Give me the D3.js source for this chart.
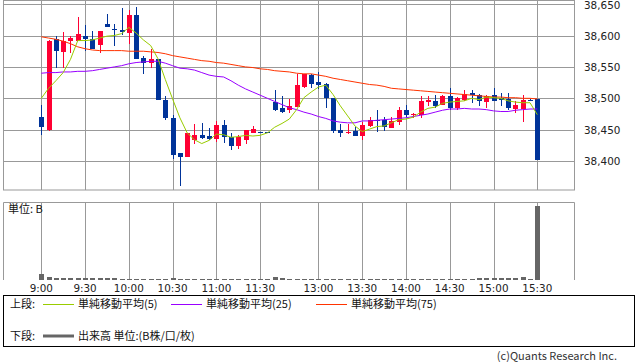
<!DOCTYPE html>
<html>
<head>
<meta charset="utf-8">
<script src="https://cdn.jsdelivr.net/npm/d3@7/dist/d3.min.js"></script>
<style>
  body { margin: 0; background: #fff; }
  svg { display: block; }
  .num { font-family: "DejaVu Sans", sans-serif; font-size: 10.4px; fill: #222; }
  .jp { font-family: "Noto Sans CJK JP", sans-serif; font-size: 11px; fill: #111; }
</style>
</head>
<body>
<div id="chart"></div>
<script>
// 5-minute bars, 9:00 - 15:30 (index 0..68)
var opens  = [38471,38449,38595,38573,38591,38592,38600,38595,38585,38619,38611,38609,38604,38632,38565,38556,38562,38498,38469,38413,
              38406,38433,38441,38440,38436,38457,38439,38424,38434,38445,38447,38446,38494,38485,38482,38486,38518,38537,38526,38523,
              38500,38450,38444,38448,38440,38456,38466,38466,38453,38462,38481,38473,38473,38494,38495,38490,38504,38484,38498,38509,
              38506,38494,38505,38500,38499,38483,38483,38498,38499];
var highs  = [38490,38593,38600,38605,38600,38629,38616,38608,38608,38634,38619,38644,38640,38646,38568,38578,38563,38503,38473,38413,
              38445,38459,38460,38453,38464,38465,38444,38441,38449,38456,38447,38446,38514,38503,38499,38538,38538,38538,38542,38524,
              38501,38459,38459,38454,38462,38470,38481,38470,38470,38486,38490,38477,38503,38503,38505,38505,38517,38502,38514,38514,
              38507,38506,38517,38508,38508,38495,38505,38499,38499];
var lows   = [38441,38448,38549,38549,38572,38592,38576,38578,38572,38613,38584,38601,38587,38563,38539,38549,38497,38466,38404,38361,
              38406,38427,38435,38434,38430,38429,38417,38420,38427,38445,38444,38444,38480,38477,38477,38486,38516,38517,38515,38485,
              38445,38438,38443,38440,38433,38455,38446,38448,38453,38457,38470,38469,38468,38487,38484,38490,38482,38482,38496,38493,
              38488,38484,38496,38488,38482,38477,38462,38496,38402];
var closes = [38455,38592,38576,38592,38596,38603,38594,38578,38608,38613,38609,38605,38632,38563,38557,38563,38498,38468,38410,38407,
              38444,38441,38437,38436,38457,38438,38424,38438,38449,38451,38444,38444,38481,38479,38487,38521,38538,38523,38522,38500,
              38448,38445,38447,38440,38457,38465,38464,38455,38464,38481,38473,38475,38495,38498,38487,38503,38485,38500,38507,38505,
              38495,38504,38496,38498,38485,38489,38498,38497,38402];

var ma5  = [38500,38516,38528,38541,38562,38592,38592,38593,38596,38599,38600,38603,38613,38604,38593,38584,38563,38530,38499,38469,
            38445,38434,38428,38433,38443,38442,38438,38439,38441,38440,38441,38445,38454,38460,38467,38482,38501,38510,38518,38521,
            38506,38488,38472,38456,38447,38451,38455,38456,38461,38466,38467,38470,38478,38484,38486,38492,38494,38495,38496,38500,
            38498,38502,38501,38500,38496,38494,38493,38493,38474];
var ma25 = [38540,38541,38541,38542,38542,38543,38543,38544,38546,38548,38550,38552,38555,38557,38558,38559,38559,38556,38552,38548,
            38547,38545,38541,38537,38535,38534,38528,38521,38515,38510,38505,38500,38495,38490,38485,38482,38478,38475,38471,38468,
            38464,38462,38461,38461,38464,38464,38465,38466,38467,38468,38469,38471,38473,38475,38478,38481,38483,38483,38484,38483,
            38483,38482,38480,38479,38479,38481,38482,38483,38483];
var ma75 = [38598,38596,38594,38591,38587,38582,38579,38577,38576,38576,38576,38576,38575,38575,38575,38574,38573,38571,38568,38566,
            38564,38562,38560,38559,38557,38556,38554,38552,38550,38549,38547,38546,38544,38543,38542,38540,38539,38539,38537,38535,
            38532,38530,38528,38526,38524,38522,38521,38519,38516,38515,38514,38513,38512,38511,38510,38509,38508,38507,38506,38505,
            38504,38503,38502,38502,38501,38501,38500,38500,38499];

// volume (unit B)
var volumes = [0.6,0.27,0.17,0.15,0.15,0.15,0.15,0.15,0.15,0.15,0.15,0.1,0.1,0.1,0.1,0.1,0.1,0.1,0.17,0.1,
               0.1,0.1,0.1,0.1,0.1,0.1,0.1,0.1,0.1,0.1,0.1,0.1,0.27,0.17,0.1,0.1,0.1,0.1,0.1,0.1,
               0.1,0.1,0.1,0.1,0.1,0.1,0.1,0.1,0.1,0.1,0.1,0.1,0.1,0.1,0.1,0.1,0.1,0.1,0.1,0.1,
               0.17,0.17,0.17,0.17,0.17,0.17,0.27,0.1,7.35];

var timeTickIdx = [0,6,12,18,24,30,38,44,50,56,62,68];
var timeLabels  = ["9:00","9:30","10:00","10:30","11:00","11:30","13:00","13:30","14:00","14:30","15:00","15:30"];
var priceTicks  = [38400,38450,38500,38550,38600,38650];

var width = 638, height = 362,
  main = {left: 3, right: 574, top: 1, bottom: 190},
  vol = {left: 3, right: 574, top: 202, bottom: 280},
  gridColor = "#999",
  upColor = "#ff0033",
  downColor = "#003399";

var svg = d3.select("#chart").append("svg")
  .attr("width", width)
  .attr("height", height);

var x = d3.scaleLinear().domain([0, 68]).range([41.3, 537.3]);
var y = d3.scaleLinear().domain([38354, 38655]).range([main.bottom, main.top]);
var yv = d3.scaleLinear().domain([0, 7.8]).range([vol.bottom, vol.top]);

var px = (i) => Math.round(x(i));

// ---- main panel grid
var g = svg.append("g");
g.selectAll(".hgrid").data(priceTicks).enter().append("line")
  .attr("x1", main.left).attr("x2", main.right)
  .attr("y1", d => Math.round(y(d)) + 0.5).attr("y2", d => Math.round(y(d)) + 0.5)
  .attr("stroke", gridColor);

g.selectAll(".vgrid").data(timeTickIdx).enter().append("line")
  .attr("x1", d => px(d) + 0.5).attr("x2", d => px(d) + 0.5)
  .attr("y1", main.top).attr("y2", main.bottom)
  .attr("stroke", gridColor);

g.append("rect")
  .attr("x", main.left + 0.5).attr("y", main.top - 0.5)
  .attr("width", main.right - main.left).attr("height", main.bottom - main.top + 0.5)
  .attr("fill", "none").attr("stroke", gridColor);

// price labels on the right (top one kept inside the page)
g.selectAll(".plabel").data(priceTicks).enter().append("text")
  .attr("class", "num")
  .attr("x", 584)
  .attr("y", d => Math.max(9, y(d) + 4))
  .text(d => d3.format(",")(d));

// ---- candles
var candles = g.selectAll(".candle").data(closes).enter().append("g");
candles.append("line")
  .attr("x1", (d, i) => px(i) + 0.5).attr("x2", (d, i) => px(i) + 0.5)
  .attr("y1", (d, i) => Math.round(y(highs[i])))
  .attr("y2", (d, i) => Math.round(y(lows[i])))
  .attr("stroke", (d, i) => d >= opens[i] ? upColor : downColor);
candles.append("rect")
  .attr("x", (d, i) => px(i) - 2)
  .attr("width", 5)
  .attr("y", (d, i) => Math.round(y(Math.max(d, opens[i]))))
  .attr("height", (d, i) => Math.max(1, Math.round(y(Math.min(d, opens[i]))) - Math.round(y(Math.max(d, opens[i])))))
  .attr("fill", (d, i) => d >= opens[i] ? upColor : downColor);

// ---- moving averages
var line = d3.line().x((d, i) => x(i)).y(d => y(d));
[[ma75, "#ff3300"], [ma25, "#9900ff"], [ma5, "#99cc00"]].forEach(function(s) {
  g.append("path")
    .datum(s[0])
    .attr("d", line)
    .attr("fill", "none")
    .attr("stroke", s[1])
    .attr("stroke-width", 1);
});

// ---- volume panel
var gv = svg.append("g");
gv.selectAll(".vgrid").data(timeTickIdx).enter().append("line")
  .attr("x1", d => px(d) + 0.5).attr("x2", d => px(d) + 0.5)
  .attr("y1", vol.top).attr("y2", vol.bottom)
  .attr("stroke", gridColor);
gv.append("path")
  .attr("d", "M" + (vol.left + 0.5) + "," + vol.bottom + "V" + (vol.top + 0.5) + "H" + (vol.right + 0.5) + "V" + vol.bottom)
  .attr("fill", "none").attr("stroke", gridColor);

gv.selectAll(".vbar").data(volumes).enter().append("rect")
  .attr("x", (d, i) => px(i) - 2)
  .attr("width", 5)
  .attr("y", d => vol.bottom - Math.max(1, Math.round(vol.bottom - yv(d))))
  .attr("height", d => Math.max(1, Math.round(vol.bottom - yv(d))))
  .attr("fill", "#666");

gv.append("text").attr("class", "jp").attr("x", 8).attr("y", 213).text("単位: B");

// time labels
gv.selectAll(".tlabel").data(timeTickIdx).enter().append("text")
  .attr("class", "num")
  .attr("text-anchor", "middle")
  .attr("x", d => x(d))
  .attr("y", 292)
  .text((d, i) => timeLabels[i]);

// ---- legend
var lg = svg.append("g");
lg.append("rect")
  .attr("x", 3.5).attr("y", 295.5).attr("width", 631).attr("height", 51)
  .attr("fill", "none").attr("stroke", "#000");

var legendItems = [
  {x: 43, label: "単純移動平均(5)", color: "#99cc00"},
  {x: 171, label: "単純移動平均(25)", color: "#9900ff"},
  {x: 316, label: "単純移動平均(75)", color: "#ff3300"}
];
lg.append("text").attr("class", "jp").attr("x", 10).attr("y", 308).text("上段:");
legendItems.forEach(function(d) {
  lg.append("line")
    .attr("x1", d.x).attr("x2", d.x + 31)
    .attr("y1", 304.5).attr("y2", 304.5)
    .attr("stroke", d.color);
  lg.append("text").attr("class", "jp").attr("x", d.x + 35).attr("y", 308).text(d.label);
});
lg.append("text").attr("class", "jp").attr("x", 10).attr("y", 340).text("下段:");
lg.append("line")
  .attr("x1", 43).attr("x2", 74).attr("y1", 336).attr("y2", 336)
  .attr("stroke", "#666").attr("stroke-width", 3);
lg.append("text").attr("class", "jp").attr("x", 78).attr("y", 340).text("出来高 単位:(B株/口/枚)");

svg.append("text").attr("class", "jp")
  .attr("x", 617).attr("y", 360)
  .attr("text-anchor", "end")
  .style("fill", "#333")
  .text("(c)Quants Research Inc.");
</script>
</body>
</html>
